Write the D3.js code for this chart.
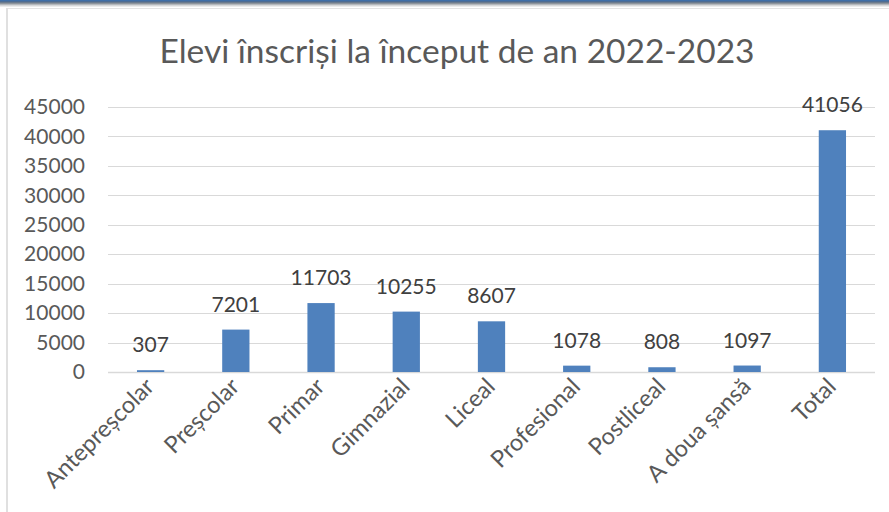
<!DOCTYPE html>
<html>
<head>
<meta charset="utf-8">
<script src="https://cdn.jsdelivr.net/npm/d3@7"></script>
<style>
  body { margin: 0; background: #fff; }
  svg { display: block; font-family: Lato, "Open Sans", sans-serif; }
</style>
</head>
<body>
<div id="chart"></div>
<script>
// Data
const categories = ["Antepreșcolar", "Preșcolar", "Primar", "Gimnazial", "Liceal",
                    "Profesional", "Postliceal", "A doua șansă", "Total"];
const values = [307, 7201, 11703, 10255, 8607, 1078, 808, 1097, 41056];
const yTicks = [0, 5000, 10000, 15000, 20000, 25000, 30000, 35000, 40000, 45000];
const title = "Elevi înscriși la început de an 2022-2023";

const W = 889, H = 512;
const margin = {top: 107, right: 14, bottom: 140, left: 108};

const svg = d3.select("#chart").append("svg")
    .attr("width", W)
    .attr("height", H);

// frame: blue band on top with a grey shade, light left edge
const shade = ["#3f6fa8", "#4d6c93", "#6b7b8e", "#8d949c", "#b4b8bc", "#d6d8da", "#ececec"];
shade.forEach((c, i) => {
    svg.append("rect").attr("x", 0).attr("y", i).attr("width", W).attr("height", 1).attr("fill", c);
});
svg.append("rect").attr("x", 8).attr("y", 8).attr("width", W - 8).attr("height", 1).attr("fill", "#e4e4e4");
svg.append("rect").attr("x", 6).attr("y", 8).attr("width", 2).attr("height", H - 8).attr("fill", "#e0e0e0");

const width = W - margin.left - margin.right,
      height = H - margin.top - margin.bottom;

const g = svg.append("g")
    .attr("transform", `translate(${margin.left},${margin.top})`);

const x = d3.scaleBand().domain(categories).range([0, width]).paddingInner(0.68).paddingOuter(0.34);
const y = d3.scaleLinear().domain([0, 45000]).range([height, 0]);

// title
svg.append("text")
    .attr("x", 457)
    .attr("y", 63)
    .attr("text-anchor", "middle")
    .attr("font-size", 33.5)
    .attr("fill", "#595959")
    .text(title);

// gridlines
g.selectAll("line.grid")
    .data(yTicks)
  .enter().append("line")
    .attr("class", "grid")
    .attr("x1", 0).attr("x2", width)
    .attr("y1", d => Math.round(y(d)) + 0.5)
    .attr("y2", d => Math.round(y(d)) + 0.5)
    .attr("stroke", "#d9d9d9")
    .attr("stroke-width", d => d === 0 ? 1.5 : 1);

// y axis labels
const yAxis = g.append("g")
    .call(d3.axisLeft(y).tickValues(yTicks).tickSize(0).tickPadding(23).tickFormat(d3.format("d")));
yAxis.select(".domain").remove();
yAxis.selectAll("text")
    .attr("font-size", 21)
    .attr("font-family", "Lato, sans-serif")
    .attr("fill", "#595959");

// bars
g.selectAll("rect.bar")
    .data(values)
  .enter().append("rect")
    .attr("class", "bar")
    .attr("x", (d, i) => x(categories[i]))
    .attr("y", d => y(d))
    .attr("width", x.bandwidth())
    .attr("height", d => y(0) - y(d))
    .attr("fill", "#4f81bd");

// value labels
g.selectAll("text.val")
    .data(values)
  .enter().append("text")
    .attr("class", "val")
    .attr("x", (d, i) => x(categories[i]) + x.bandwidth() / 2)
    .attr("y", d => y(d) - 18)
    .attr("text-anchor", "middle")
    .attr("font-size", 21)
    .attr("fill", "#404040")
    .text(d => d);

// category labels, rotated
const xAxis = g.append("g")
    .attr("transform", `translate(0,${height})`)
    .call(d3.axisBottom(x).tickSize(0).tickPadding(0));
xAxis.select(".domain").remove();
xAxis.selectAll("text")
    .attr("font-size", 23.5)
    .attr("font-family", "Lato, sans-serif")
    .attr("fill", "#595959")
    .attr("text-anchor", "end")
    .attr("dy", 0)
    .attr("transform", "translate(5,16) rotate(-45)");
</script>
</body>
</html>
